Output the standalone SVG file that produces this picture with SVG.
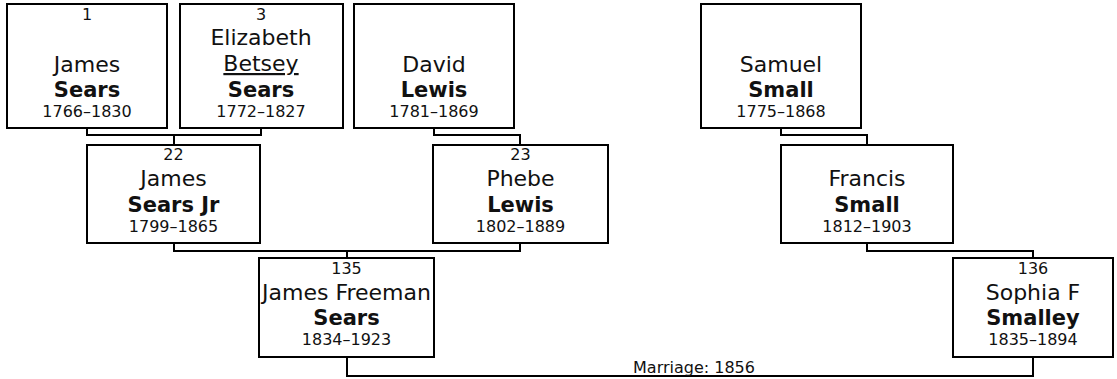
<svg xmlns="http://www.w3.org/2000/svg" width="1117" height="379" viewBox="0 0 1117 379">
<style>
.box{fill:#fff;stroke:#000;stroke-width:2}
.ln{fill:none;stroke:#000;stroke-width:2}
text{font-family:"DejaVu Sans","Liberation Sans",sans-serif;fill:#111;text-anchor:middle}
.num{font-size:16px}
.nm{font-size:22px}
.sn{font-size:21px;font-weight:bold}
.dt{font-size:16px}
.lbl{font-size:16px}
</style>
<rect width="1117" height="379" fill="#fff"/>
<g id="connectors">
<path class="ln" d="M87 128V135H261V128M174 135V145"/>
<path class="ln" d="M434 128V135H520V145"/>
<path class="ln" d="M781 128V135H867V145"/>
<path class="ln" d="M174 243V251H520V243M347 251V258"/>
<path class="ln" d="M867 243V251H1033V258"/>
<path class="ln" d="M347 357V376H1033V357"/>
<text class="lbl" x="694" y="373">Marriage: 1856</text>
</g>
<g id="n1">
<rect class="box" x="7" y="4" width="160" height="124"/>
<text class="num" x="87" y="20">1</text>
<text class="nm" x="87" y="72">James</text>
<text class="sn" x="87" y="97">Sears</text>
<text class="dt" x="87" y="117">1766–1830</text>
</g>
<g id="n3">
<rect class="box" x="180" y="4" width="163" height="124"/>
<text class="num" x="261" y="20">3</text>
<text class="nm" x="261" y="45">Elizabeth</text>
<text class="nm" x="261" y="71" text-decoration="underline">Betsey</text>
<text class="sn" x="261" y="97">Sears</text>
<text class="dt" x="261" y="117">1772–1827</text>
</g>
<g id="nDavid">
<rect class="box" x="354" y="4" width="160" height="124"/>
<text class="nm" x="434" y="72">David</text>
<text class="sn" x="434" y="97">Lewis</text>
<text class="dt" x="434" y="117">1781–1869</text>
</g>
<g id="nSamuel">
<rect class="box" x="701" y="4" width="160" height="124"/>
<text class="nm" x="781" y="72">Samuel</text>
<text class="sn" x="781" y="97">Small</text>
<text class="dt" x="781" y="117">1775–1868</text>
</g>
<g id="n22">
<rect class="box" x="87" y="145" width="173" height="98"/>
<text class="num" x="173.5" y="160">22</text>
<text class="nm" x="173.5" y="186">James</text>
<text class="sn" x="173.5" y="212">Sears Jr</text>
<text class="dt" x="173.5" y="232">1799–1865</text>
</g>
<g id="n23">
<rect class="box" x="433" y="145" width="175" height="98"/>
<text class="num" x="520.5" y="160">23</text>
<text class="nm" x="520.5" y="186">Phebe</text>
<text class="sn" x="520.5" y="212">Lewis</text>
<text class="dt" x="520.5" y="232">1802–1889</text>
</g>
<g id="nFrancis">
<rect class="box" x="781" y="145" width="172" height="98"/>
<text class="nm" x="867" y="186">Francis</text>
<text class="sn" x="867" y="212">Small</text>
<text class="dt" x="867" y="232">1812–1903</text>
</g>
<g id="n135">
<rect class="box" x="259" y="258" width="175" height="99"/>
<text class="num" x="346.5" y="274">135</text>
<text class="nm" x="346.5" y="300">James Freeman</text>
<text class="sn" x="346.5" y="325">Sears</text>
<text class="dt" x="346.5" y="345">1834–1923</text>
</g>
<g id="n136">
<rect class="box" x="953" y="258" width="160" height="99"/>
<text class="num" x="1033" y="274">136</text>
<text class="nm" x="1033" y="300">Sophia F</text>
<text class="sn" x="1033" y="325">Smalley</text>
<text class="dt" x="1033" y="345">1835–1894</text>
</g>
</svg>
